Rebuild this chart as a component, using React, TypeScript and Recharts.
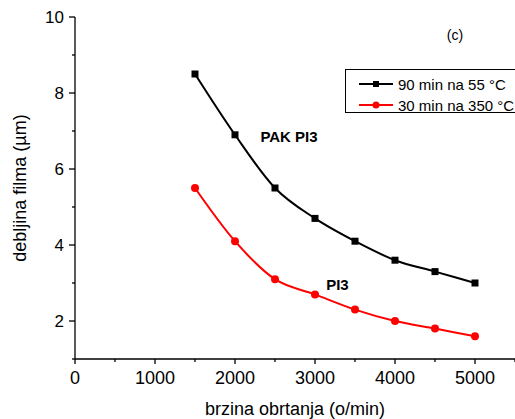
import { LineChart, Line, XAxis, YAxis, ReferenceDot } from 'recharts';

const speeds = [1500, 2000, 2500, 3000, 3500, 4000, 4500, 5000];
const pakPi3 = [8.5, 6.9, 5.5, 4.7, 4.1, 3.6, 3.3, 3.0];
const pi3 = [5.5, 4.1, 3.1, 2.7, 2.3, 2.0, 1.8, 1.6];
const xTicks = [0, 500, 1000, 1500, 2000, 2500, 3000, 3500, 4000, 4500, 5000, 5500];
const yTicks = [1, 2, 3, 4, 5, 6, 7, 8, 9, 10];
const seriesNames = ['90 min na 55 °C', '30 min na 350 °C'];

const data = speeds.map((s, i) => ({ speed: s, pak: pakPi3[i], pi: pi3[i] }));

const font = '"Liberation Sans", Arial, sans-serif';

const XTick = ({ x, y, payload }: any) => {
  const major = payload.value % 1000 === 0;
  return (
    <g>
      <line x1={x} x2={x} y1={y} y2={y + (major ? 5 : 3)} stroke="#000" strokeWidth={1.3} />
      {major && (
        <text x={x} y={y + 25} textAnchor="middle" fontSize={18} fill="#000" fontFamily={font}>
          {payload.value}
        </text>
      )}
    </g>
  );
};

const YTick = ({ x, y, payload }: any) => {
  const major = payload.value % 2 === 0;
  return (
    <g>
      <line x1={x} x2={x - (major ? 6 : 3)} y1={y} y2={y} stroke="#000" strokeWidth={1.3} />
      {major && (
        <text x={x - 11} y={y + 6} textAnchor="end" fontSize={17} fill="#000" fontFamily={font}>
          {payload.value}
        </text>
      )}
    </g>
  );
};

const LegendBox = () => (
  <div
    style={{
      position: 'absolute',
      left: 345,
      top: 69,
      border: '1px solid #000',
      borderRight: 'none',
      width: 175,
      height: 44,
      boxSizing: 'border-box',
      fontFamily: font,
      fontSize: 15,
      background: '#fff',
    }}
  >
    {[
      { name: seriesNames[0], color: '#000', shape: 'square' },
      { name: seriesNames[1], color: '#ff0000', shape: 'circle' },
    ].map((it, i) => (
      <div key={i} style={{ position: 'absolute', left: 13, top: 5 + i * 21, height: 18, display: 'flex', alignItems: 'center' }}>
        <svg width={36} height={10}>
          <line x1={0} x2={34} y1={5} y2={5} stroke={it.color} strokeWidth={2} />
          {it.shape === 'square' ? (
            <rect x={14} y={2} width={6} height={6} fill={it.color} />
          ) : (
            <circle cx={17} cy={5} r={3.5} fill={it.color} />
          )}
        </svg>
        <span style={{ marginLeft: 3, color: '#000', whiteSpace: 'nowrap' }}>{it.name}</span>
      </div>
    ))}
  </div>
);

const Square = ({ cx, cy }: any) => <rect x={cx - 3.5} y={cy - 3.5} width={7} height={7} fill="#000" />;

export default function App() {
  return (
    <div style={{ position: 'absolute', left: 0, top: 0, width: 515, height: 419, overflow: 'hidden', background: '#fff' }}>
      <LineChart width={515} height={419} data={data} margin={{ top: 17, right: 0, bottom: 0, left: 0 }}>
        <XAxis
          dataKey="speed"
          type="number"
          domain={[0, 5500]}
          ticks={xTicks}
          tick={XTick}
          tickLine={false}
          tickSize={0}
          tickMargin={0}
          height={60}
          axisLine={{ stroke: '#000', strokeWidth: 1.3 }}
          interval={0}
          label={{ value: 'brzina obrtanja (o/min)', position: 'insideBottom', offset: 4, fontSize: 18, fill: '#000', fontFamily: font }}
        />
        <YAxis
          type="number"
          domain={[1, 10]}
          ticks={yTicks}
          tick={YTick}
          tickLine={false}
          tickSize={0}
          tickMargin={0}
          width={75}
          axisLine={{ stroke: '#000', strokeWidth: 1.3 }}
          interval={0}
          label={{ value: 'debljina filma (µm)', angle: -90, position: 'insideLeft', offset: 20, style: { textAnchor: 'middle' }, fontSize: 18, fill: '#000', fontFamily: font }}
        />
        <Line
          type="monotone"
          dataKey="pak"
          stroke="#000"
          strokeWidth={2}
          dot={Square}
          isAnimationActive={false}
        />
        <Line
          type="monotone"
          dataKey="pi"
          stroke="#ff0000"
          strokeWidth={2}
          dot={{ r: 4, fill: '#ff0000', stroke: '#ff0000', strokeWidth: 0 }}
          isAnimationActive={false}
        />
        <ReferenceDot
          x={2675}
          y={6.84}
          r={0}
          stroke="none"
          label={{ value: 'PAK PI3', position: 'center', fontSize: 15, fontWeight: 'bold', fill: '#000', fontFamily: font }}
        />
        <ReferenceDot
          x={3280}
          y={2.95}
          r={0}
          stroke="none"
          label={{ value: 'PI3', position: 'center', fontSize: 15, fontWeight: 'bold', fill: '#000', fontFamily: font }}
        />
        <ReferenceDot
          x={4750}
          y={9.53}
          r={0}
          stroke="none"
          label={{ value: '(c)', position: 'center', fontSize: 14, fill: '#000', fontFamily: font }}
        />
      </LineChart>
      <LegendBox />
    </div>
  );
}
